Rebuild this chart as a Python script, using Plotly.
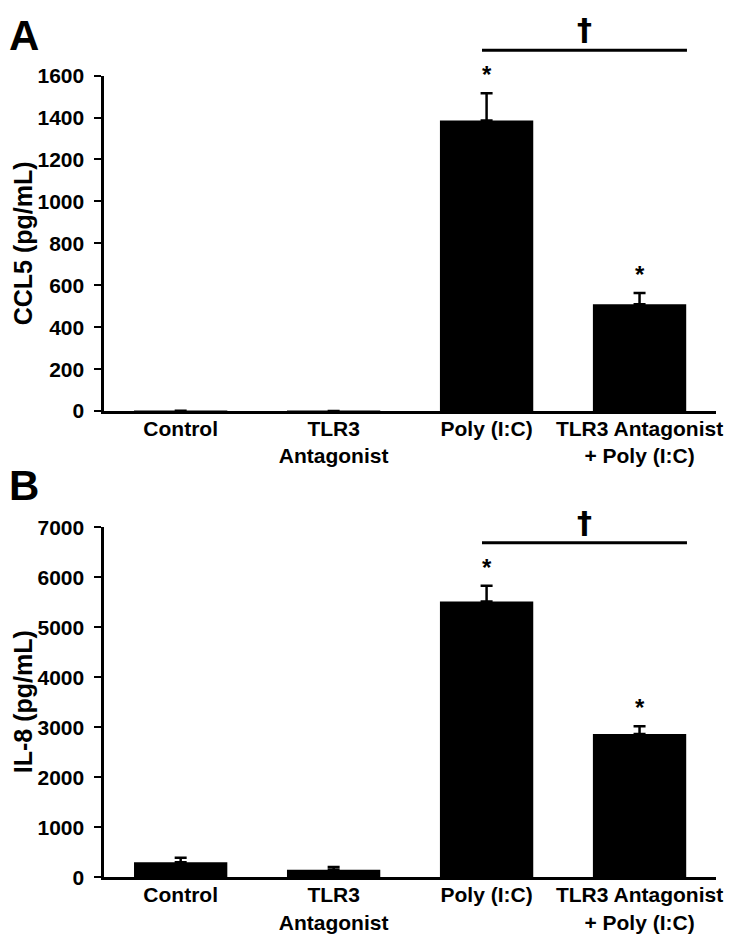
import plotly.graph_objects as go

categories = ["Control", "TLR3<br>Antagonist", "Poly (I:C)", "TLR3 Antagonist<br>+ Poly (I:C)"]

ccl5_values = [2, 1, 1386, 510]
ccl5_errors = [0, 0, 130, 53]
ccl5_sig = [False, False, True, True]

il8_values = [300, 150, 5515, 2865]
il8_errors = [90, 55, 315, 155]
il8_sig = [False, False, True, True]

ccl5_ticks = [0, 200, 400, 600, 800, 1000, 1200, 1400, 1600]
il8_ticks = [0, 1000, 2000, 3000, 4000, 5000, 6000, 7000]

FONT = "Liberation Sans, Arial, sans-serif"
# page body has an 8px default margin; size the figure so the page is exactly 734x947
OFF = 8
W, H = 734 - 2 * OFF, 947 - 2 * OFF

fig = go.Figure()

def add_panel(vals, errs, xa, ya):
    fig.add_trace(go.Bar(
        x=categories, y=vals, xaxis=xa, yaxis=ya,
        marker=dict(color="black", line=dict(width=0)),
        width=0.61,
        error_y=dict(type="data", array=errs, arrayminus=[0] * len(errs), symmetric=False,
                     color="black", thickness=2.5, width=6),
        showlegend=False, hoverinfo="skip",
    ))

add_panel(ccl5_values, ccl5_errors, "x", "y")
add_panel(il8_values, il8_errors, "x2", "y2")

def px_x(p):
    return (p - OFF) / W

def px_y(p):
    return 1 - (p - OFF) / H

xdom = [px_x(105), px_x(722)]
ydomA = [px_y(409), px_y(65)]
ydomB = [px_y(887), px_y(528)]

xcommon = dict(domain=xdom, showline=True, linecolor="black", linewidth=2.5,
               ticks="", showgrid=False, zeroline=False,
               tickfont=dict(family=FONT, size=21, color="black", weight="bold"),
               ticklabelstandoff=-3,
               range=[-0.5, 3.5], fixedrange=True)
ycommon = dict(showline=True, linecolor="black", linewidth=2.5, ticks="outside",
               ticklen=7, tickwidth=2, tickcolor="black", showgrid=False, zeroline=False,
               tickfont=dict(family=FONT, size=21, color="black", weight="bold"),
               ticklabelstandoff=6,
               fixedrange=True)

fig.update_layout(
    width=W, height=H,
    margin=dict(l=0, r=0, t=0, b=0),
    plot_bgcolor="white", paper_bgcolor="white",
    xaxis=dict(**xcommon, anchor="y"),
    yaxis=dict(**ycommon, domain=ydomA, anchor="x", range=[0, 1600],
               tickvals=ccl5_ticks, ticktext=[str(t) for t in ccl5_ticks]),
    xaxis2=dict(**xcommon, anchor="y2"),
    yaxis2=dict(**ycommon, domain=ydomB, anchor="x2", range=[0, 7000],
                tickvals=il8_ticks, ticktext=[str(t) for t in il8_ticks]),
)

annotations = []
shapes = []

def add_marks(vals, errs, sig, xr, yr, ymax, plot_h, title):
    for i, (v, e, s) in enumerate(zip(vals, errs, sig)):
        if s:
            annotations.append(dict(x=i, y=v + e, xref=xr, yref=yr, text="*",
                                    showarrow=False, yanchor="bottom", yshift=3,
                                    font=dict(family=FONT, size=24, color="black", weight="bold")))
    # significance bracket between Poly (I:C) and TLR3 Antagonist + Poly (I:C)
    top = vals[2] + errs[2]
    ydom = top / ymax + 44 / plot_h
    shapes.append(dict(type="line", xref=xr, yref=yr + " domain", x0=1.97, x1=3.31,
                       y0=ydom, y1=ydom, line=dict(color="black", width=3)))
    annotations.append(dict(x=2.64, y=ydom, xref=xr, yref=yr + " domain", text="†",
                            showarrow=False, yanchor="bottom", yshift=2, borderpad=0,
                            font=dict(family="DejaVu Sans", size=30, color="black", weight="bold")))
    # rotated axis title, centred on the axis
    annotations.append(dict(x=0, y=0.5, xref="paper", yref=yr + " domain", text=title,
                            showarrow=False, textangle=-90, xanchor="left", yanchor="middle",
                            borderpad=0,
                            font=dict(family=FONT, size=25, color="black", weight="bold")))

add_marks(ccl5_values, ccl5_errors, ccl5_sig, "x", "y", 1600, 344, "CCL5 (pg/mL)")
add_marks(il8_values, il8_errors, il8_sig, "x2", "y2", 7000, 359, "IL-8 (pg/mL)")

annotations.append(dict(x=0, y=1, xref="paper", yref="paper", text="A", showarrow=False,
                        xanchor="left", yanchor="top", borderpad=0, yshift=9,
                        font=dict(family=FONT, size=42, color="black", weight="bold")))
annotations.append(dict(x=0, y=px_y(460), xref="paper", yref="paper", text="B", showarrow=False,
                        xanchor="left", yanchor="top", borderpad=0,
                        font=dict(family=FONT, size=42, color="black", weight="bold")))

fig.update_layout(annotations=annotations, shapes=shapes)

fig.write_html("out.html")
